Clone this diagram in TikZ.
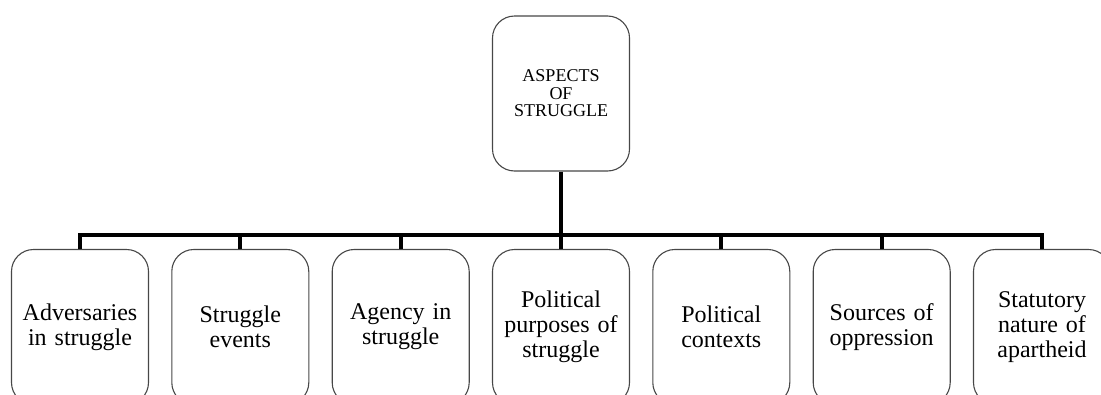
\documentclass[tikz,border=0pt]{standalone}
\usepackage{fontspec}
\setmainfont{Liberation Serif}
\begin{document}
\begin{tikzpicture}[x=1pt,y=-1pt,
  card/.style={draw=black!72, line width=1.1pt, rounded corners=22pt,
    minimum width=137pt, minimum height=155pt, inner sep=0pt,
    align=center, text width=134pt,
    font=\fontsize{24}{25}\selectfont},
  headcard/.style={card, font=\fontsize{18}{17.5}\selectfont},
  link/.style={line width=4pt, black, line join=miter}]
\useasboundingbox (0,0) rectangle (1101,394);
\clip (0,0) rectangle (1101,394);

% root of the hierarchy
\node[headcard] (root) at (561,93.5) {ASPECTS\\OF\\STRUGGLE};

% the seven aspects
\node[card] (adv) at (80,327)    {Adversaries\\in struggle};
\node[card] (evt) at (240.3,327) {Struggle\\events};
\node[card] (agc) at (400.7,327) {Agency in\\struggle};
\node[card] (pur) at (561,327)   {Political\\purposes of\\struggle};
\node[card] (ctx) at (721.3,327) {Political\\contexts};
\node[card] (src) at (881.7,327) {Sources of\\oppression};
\node[card] (sta) at (1042,327)  {Statutory\\nature of\\apartheid};

% connectors
\coordinate (bar) at (561,235);
\draw[link] (root.south) -- (root.south |- bar);
\draw[link] (adv.north) -- (adv.north |- bar) -- (sta.north |- bar) -- (sta.north);
\foreach \n in {evt,agc,pur,ctx,src}
  \draw[link] (\n.north |- bar) -- (\n.north);
\end{tikzpicture}
\end{document}
